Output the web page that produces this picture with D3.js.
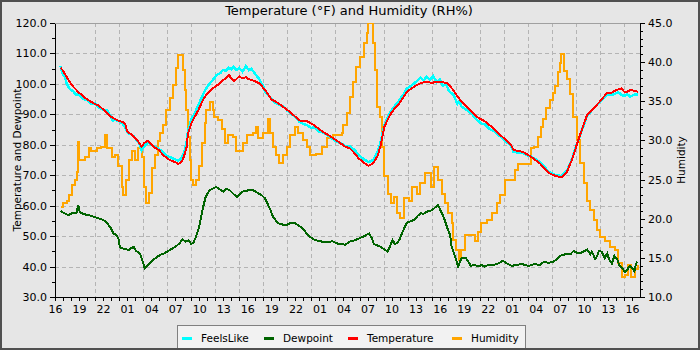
<!DOCTYPE html>
<html>
<head>
<meta charset="utf-8">
<script src="https://cdn.jsdelivr.net/npm/d3@7"></script>
<style>
  html, body { margin: 0; padding: 0; background: #e6e6e6; }
  svg { display: block; font-family: "DejaVu Sans", sans-serif; }
</style>
</head>
<body>
<svg id="chart" width="700" height="350"></svg>
<script>
// Three days of weather-station readings, hours since 16:00 on the first day.
const startTime = Date.UTC(2024, 6, 14, 16, 0);
const endHours = 73;

const tempHours = [0.7,1.0,1.67,2.3,3,3.5,4,5,5.5,6,6.5,7,7.5,8,8.5,8.8,9,9.5,10,10.4,10.8,11.1,11.6,12,12.5,13,13.5,14.3,15,15.4,15.8,16,16.4,16.6,17,17.5,17.9,18.3,18.7,19.2,19.7,20.2,20.6,21,21.3,21.7,22,22.3,22.6,23,23.4,23.8,24.2,24.5,25,25.5,26.2,26.6,27,27.5,27.9,28.7,29.3,30,30.6,31.4,32.3,33.1,34.1,35.2,36.2,36.8,37.4,37.9,38.5,39.1,39.7,40.3,40.7,41.1,41.8,42.3,42.8,43.4,43.9,44.5,45.1,45.8,46.4,47,47.6,48,49,49.7,50.2,50.7,51.6,52.6,53.7,54.7,55.7,56.8,57.2,57.6,58.4,59.5,60.5,61.6,62.4,63.2,63.9,64.5,65.1,65.8,66.4,67.2,68,68.9,69.4,69.9,70.3,70.7,71.0,71.4,71.8,72.2,72.8];
const temperature = [105.3,104.3,101.3,99.0,97.1,96.0,94.9,93.4,92.8,91.6,90.5,89.2,88.4,87.8,87.5,86.5,84.3,83.5,82.1,81.0,79.4,80.5,81.4,80.3,79.0,78.2,76.6,75.0,74.3,73.7,74.5,75.5,78.8,83.7,87.0,89.5,91.4,93.8,95.8,97.3,98.5,99.5,100.2,101.3,101.7,103.0,101.8,101.0,101.5,102.5,101.8,102.2,101.5,101.3,100.8,100.2,98.0,96.5,94.9,94.2,93.6,92.0,90.8,89.2,87.9,87.8,86.5,84.8,83.2,81.3,79.4,78.8,77.2,75.5,74.2,73.1,73.9,76.6,80.5,85.9,89.8,91.6,93.0,95.3,97.4,98.5,99.6,100.4,100.7,100.3,100.7,100.7,100.2,98.0,96.0,94.2,92.0,89.2,87.6,85.4,82.9,80.3,78.5,78.0,77.7,75.9,73.9,70.8,69.8,69.3,71.2,75.0,79.9,85.4,89.8,92.0,94.2,97.1,97.0,97.8,98.2,98.5,97.5,97.4,98.0,97.8,97.4];

const feelsHours = [0.7,0.9,1.2,1.5,1.9,2.3,2.6,3,3.3,3.7,4,4.5,5,5.5,6,6.5,6.9,7.2,7.5,8,8.4,8.8,9.2,9.5,9.8,10.2,10.5,10.8,11.1,11.6,12,12.5,13,13.5,14,14.5,15,15.4,15.8,16.1,16.4,16.6,17,17.5,17.9,18.3,18.7,19.2,19.7,20.2,20.6,21,21.3,21.7,22,22.3,22.6,23,23.4,23.8,24.2,24.5,25,25.5,26,26.3,26.6,27,27.5,27.9,28.5,29,29.5,30,30.5,31,31.5,32,32.3,33,33.5,34.1,34.5,35.2,35.7,36.2,36.8,37.4,37.9,38.5,39.1,39.7,40.3,40.7,41.1,41.8,42.3,42.8,43.4,43.9,44.5,45.1,45.6,46,46.4,46.8,47.2,47.6,48,48.4,48.8,49.2,49.7,50.2,50.5,50.7,51.2,51.6,52,52.6,53.2,53.7,54.2,54.7,55.2,55.7,56.2,56.8,57.2,57.6,58.4,59,59.5,60.5,61.6,62.4,63.2,63.9,64.5,65.1,65.8,66.4,67.2,68,68.9,69.4,69.9,70.3,70.7,71.0,71.4,71.8,72.2,72.8];
const feelsLike = [105.8,103.5,102.5,99.8,98.2,97.5,96.5,96.5,95.5,94.8,94.8,93.6,93.5,92.2,91.5,91.5,89.5,88.0,88.2,87.8,87.0,85.5,83.5,83.5,82.8,81.5,80.5,78.2,79.5,80.8,80.0,79.2,78.6,77.5,76.2,75.8,75.2,74.8,75.6,77.5,80.2,84.5,88.2,90.8,93.0,95.5,97.8,99.8,101.3,103.0,103.5,104.6,104.2,105.3,104.8,105.6,104.6,105.2,104.0,105.8,104.5,105.0,103.2,101.6,99.0,97.0,96.3,95.2,93.8,93.2,92.6,91.2,90.2,89.0,87.6,86.8,86.4,85.5,85.8,84.3,84.0,83.0,82.2,81.0,80.5,79.6,79.6,78.2,76.6,75.3,74.3,75.0,77.8,81.5,86.5,90.6,92.4,94.0,96.2,98.4,99.5,100.8,102.0,101.2,102.3,101.4,102.6,100.6,101.5,99.5,99.8,97.5,96.6,93.5,94.6,92.6,91.8,91.0,90.2,88.3,87.0,86.6,85.2,84.6,83.6,82.4,81.2,80.0,77.8,77.5,77.3,76.5,76.0,74.3,71.2,70.1,69.7,71.5,75.2,80.0,85.2,89.5,92.0,94.0,96.6,96.3,96.8,97.2,96.4,96.0,96.6,95.8,96.4,96.6];

const dewHours = [0.7,1.2,1.67,2.2,2.7,2.9,3.1,3.6,4.2,4.7,5,5.5,6,6.4,6.7,7,7.3,7.6,7.9,8.1,8.3,8.7,9.2,9.5,9.8,10.1,10.6,10.9,11.2,11.5,11.8,12.2,12.5,13.1,13.6,14.3,15,15.5,15.9,16.3,16.7,17,17.3,17.6,18,18.4,18.8,19.3,19.7,20.1,20.6,21,21.4,21.8,22.2,22.7,23.1,23.4,24.2,24.7,25.4,25.8,26.2,26.6,26.9,27.2,27.6,27.9,28.4,28.9,29.3,29.7,30.1,30.6,31,31.4,31.8,32.3,32.8,33.3,34,34.6,35.0,35.4,36.2,36.8,37.4,38,38.6,39.2,39.5,39.8,40.2,40.6,41,41.5,41.8,42.1,42.4,42.7,43,43.3,43.6,43.9,44.3,44.8,45.2,45.6,46,46.4,46.9,47.3,47.8,48.3,48.6,48.9,49.3,49.5,50,50.3,50.7,51.3,51.9,52.3,52.8,53.2,53.6,54.2,54.7,55.3,55.9,56.4,57,57.6,58.3,59.1,59.9,60.5,61,61.6,62.2,62.6,63,63.5,63.9,64.3,64.7,65.1,65.5,66,66.4,66.8,67,67.4,67.6,67.9,68.2,68.6,68.9,69.2,69.5,69.8,70.2,70.5,70.8,71.1,71.4,71.7,72,72.3,72.5,72.7];
const dewpoint = [58.2,57.5,56.9,57.6,57.7,60.3,57.8,57.2,56.9,56.5,56.2,55.8,55.3,54.6,53.6,52.5,50.9,50.4,49.3,46.5,46.0,45.8,45.4,46.0,46.5,45.2,44.3,42.0,39.4,40.4,41.0,42.0,42.7,43.8,44.3,45.4,46.5,47.5,48.9,48.2,48.6,47.4,48.0,49.8,53.1,58.6,62.9,65.1,65.6,66.2,65.3,64.6,65.5,65.1,64.0,62.9,63.8,64.6,65.1,65.1,64.0,63.4,62.4,60.2,58.5,56.4,55.0,54.2,53.8,53.6,54.2,54.5,54.0,53.1,52.2,50.9,49.8,48.9,48.5,48.2,48.0,48.3,47.8,47.4,47.2,48.2,48.6,49.3,50.0,50.9,49.5,47.4,47.0,46.5,45.8,44.9,46.5,48.7,47.5,47.7,49.0,50.9,52.8,54.4,54.8,55.3,56.5,57.5,57.3,58.0,58.4,59.1,60.2,57.4,55.5,53.1,50.4,46.5,42.7,40.0,42.7,42.7,40.2,40.6,40.0,40.5,40.0,40.6,40.5,41.0,41.9,41.0,40.2,40.6,40.8,40.2,40.9,40.4,41.6,41.2,41.6,42.4,43.5,43.9,44.3,44.0,45.1,44.6,44.3,45.0,45.6,44.0,44.9,42.5,43.2,45.2,44.9,42.8,44.3,42.0,41.0,43.5,42.1,40.0,39.4,38.2,38.9,40.2,39.7,38.5,41.0,41.6];

const humHours = [0.7,1.0,1.5,1.75,2.1,2.5,2.7,2.9,3.0,3.75,4.2,4.5,4.8,5.2,5.8,6.25,6.5,6.7,7.1,7.5,7.9,8.3,8.5,8.8,9.2,9.6,10,10.4,10.8,11.1,11.4,11.7,12.1,12.5,12.9,13.1,13.5,13.9,14.3,14.7,15.1,15.4,15.8,16,16.2,16.4,16.6,16.8,17,17.2,17.6,18,18.4,18.7,18.9,19.3,19.7,19.9,20.4,20.8,21.2,21.6,22.2,22.6,23.1,23.5,24,24.7,25.1,25.3,26,26.6,26.8,27.2,27.6,28,28.5,28.9,29.3,29.9,30.3,30.9,31.4,31.8,32.6,33.3,33.9,34.7,35.8,36,36.4,36.8,37.2,37.6,38,38.5,38.9,39.1,39.5,39.7,39.9,40.2,40.5,40.8,41.1,41.5,41.9,42.3,42.7,43.1,43.5,44.2,44.6,45.2,45.6,46.2,46.9,47.3,47.8,48.3,48.7,49.1,49.5,49.7,50.1,50.4,50.7,51.1,52,52.4,52.8,53.2,53.9,54.5,55.1,55.5,56.1,57,57.4,57.8,58.8,59.4,59.8,60.3,60.7,60.9,61.3,61.8,62.2,62.4,62.8,63,63.2,63.5,63.9,64.3,64.7,65.1,65.5,66,66.4,66.8,67.2,67.6,68,68.6,69.2,69.9,70.3,70.7,71.1,71.5,71.9,72.4,72.8];
const humidity = [21.5,22.0,22.3,23.0,24.3,24.9,26.0,29.8,27.5,27.9,29.0,28.6,28.6,29.0,29.2,30.7,29.0,29.0,27.9,28.1,26.7,24.1,23.0,25.0,27.5,28.7,27.5,29.0,27.9,24.1,22.0,23.3,26.5,28.1,29.9,30.9,32.0,33.9,35.4,37.1,39.2,40.9,40.9,39.0,36.4,33.9,30.5,27.5,24.9,24.3,24.9,26.7,29.7,32.2,33.9,34.9,33.9,33.0,32.6,31.4,29.7,30.7,30.5,28.6,28.6,29.7,30.7,30.9,31.7,30.3,30.9,32.8,30.9,29.2,28.1,27.1,28.1,29.2,30.7,31.7,30.9,30.1,29.2,28.1,28.3,29.2,30.3,30.7,30.9,32.0,33.5,35.6,37.5,39.4,40.7,42.4,43.7,45.0,45.0,42.4,39.0,34.3,33.0,29.2,25.4,23.2,22.0,22.8,20.7,20.1,22.7,22.3,24.1,23.2,24.5,25.8,24.1,26.6,24.9,23.2,22.0,20.7,19.4,17.3,16.0,14.7,16.0,17.9,17.9,17.1,18.3,19.4,19.8,20.7,22.0,23.0,24.9,25.0,26.2,27.0,27.0,29.0,29.1,30.5,31.7,32.8,34.1,35.2,36.1,37.0,38.7,39.9,41.1,38.9,37.8,35.9,33.0,30.1,27.1,24.5,22.3,21.1,19.8,18.5,17.7,17.1,16.4,16.0,14.3,12.6,12.8,14.1,12.6,13.6,14.1];

const leftTicks = [30, 40, 50, 60, 70, 80, 90, 100, 110, 120];
const rightTicks = [10, 15, 20, 25, 30, 35, 40, 45];

const seriesNames = ["FeelsLike", "Dewpoint", "Temperature", "Humidity"];
const seriesColors = {FeelsLike: "#00ffff", Dewpoint: "#006400", Temperature: "#ff0000", Humidity: "#ffa500"};

const W = 700, H = 350;
const plot = {left: 55, right: 640, top: 23, bottom: 297};
const svg = d3.select("#chart");

const toDate = h => new Date(startTime + h * 3600e3);
const x = d3.scaleUtc().domain([toDate(0), toDate(endHours)]).range([plot.left, plot.right]);
const yL = d3.scaleLinear().domain([30, 120]).range([plot.bottom, plot.top]);
const yR = d3.scaleLinear().domain([10, 45]).range([plot.bottom, plot.top]);

// canvas
svg.append("rect").attr("x", 0).attr("y", 0).attr("width", W).attr("height", H).attr("fill", "#e6e6e6");

// grid
const grid = svg.append("g").attr("stroke", "#b4b4b4").attr("stroke-width", 1)
  .attr("stroke-dasharray", "4,3").attr("shape-rendering", "crispEdges");
const gridHours = d3.utcHour.every(3).range(toDate(0), toDate(endHours));
grid.selectAll("line.v").data(gridHours.slice(1)).join("line")
  .attr("x1", d => Math.round(x(d)) + 0.5).attr("x2", d => Math.round(x(d)) + 0.5)
  .attr("y1", plot.top).attr("y2", plot.bottom);
grid.selectAll("line.h").data(leftTicks.filter(v => v > 30 && v < 120)).join("line")
  .attr("x1", plot.left).attr("x2", plot.right)
  .attr("y1", d => Math.round(yL(d)) + 0.5).attr("y2", d => Math.round(yL(d)) + 0.5);

svg.append("line").attr("x1", plot.left).attr("x2", plot.right)
  .attr("y1", plot.top + 0.5).attr("y2", plot.top + 0.5)
  .attr("stroke", "#a0a0a0").attr("shape-rendering", "crispEdges");

// series
function pairs(hours, values) { return hours.map((h, i) => [toDate(h), values[i]]); }
const lineL = d3.line().x(d => x(d[0])).y(d => yL(d[1]));
const lineR = d3.line().x(d => x(d[0])).y(d => yR(d[1])).curve(d3.curveStepAfter);
svg.append("clipPath").attr("id", "plotclip").append("rect")
  .attr("x", plot.left).attr("y", plot.top).attr("width", plot.right - plot.left).attr("height", plot.bottom - plot.top);
const lines = svg.append("g").attr("clip-path", "url(#plotclip)").attr("fill", "none")
  .attr("stroke-width", 2).attr("stroke-linejoin", "miter").attr("shape-rendering", "crispEdges");
lines.append("path").attr("d", lineR(pairs(humHours, humidity))).attr("stroke", seriesColors.Humidity);
lines.append("path").attr("d", lineL(pairs(feelsHours, feelsLike))).attr("stroke", seriesColors.FeelsLike).attr("stroke-width", 2.5);
lines.append("path").attr("d", lineL(pairs(dewHours, dewpoint))).attr("stroke", seriesColors.Dewpoint);
lines.append("path").attr("d", lineL(pairs(tempHours, temperature))).attr("stroke", seriesColors.Temperature);

// axes
function styleAxis(g) {
  g.attr("font-family", "DejaVu Sans, sans-serif").attr("font-size", 11);
  g.selectAll("text").attr("fill", "#000");
  g.selectAll("line,path").attr("stroke", "#000").attr("shape-rendering", "crispEdges");
}
const fmt = d3.format(".1f");
svg.append("g").attr("transform", `translate(${plot.left},0)`)
  .call(d3.axisLeft(yL).tickValues(d3.range(35, 120, 10)).tickSize(3).tickFormat("").tickSizeOuter(0)).call(styleAxis);
svg.append("g").attr("transform", `translate(${plot.left},0)`)
  .call(d3.axisLeft(yL).tickValues(leftTicks).tickFormat(fmt).tickSize(5).tickPadding(3).tickSizeOuter(0)).call(styleAxis);

svg.append("g").attr("transform", `translate(${plot.right},0)`)
  .call(d3.axisRight(yR).tickValues(d3.range(10, 46, 1)).tickSize(3).tickFormat("").tickSizeOuter(0)).call(styleAxis);
svg.append("g").attr("transform", `translate(${plot.right},0)`)
  .call(d3.axisRight(yR).tickValues(rightTicks).tickFormat(fmt).tickSize(5).tickPadding(3).tickSizeOuter(0)).call(styleAxis);

const hourTicks = d3.utcHour.every(1).range(toDate(0), toDate(endHours));
const hourFmt = d3.utcFormat("%H");
svg.append("g").attr("transform", `translate(0,${plot.bottom})`)
  .call(d3.axisBottom(x).tickValues(hourTicks).tickSize(4).tickPadding(4)
    .tickFormat(d => (d.getUTCHours() % 3 === 1 ? hourFmt(d) : "")).tickSizeOuter(0))
  .call(styleAxis);

// titles
svg.append("text").attr("x", 349).attr("y", 15).attr("text-anchor", "middle")
  .attr("font-size", 13).attr("fill", "#000").text("Temperature (°F) and Humidity (RH%)");
svg.append("text").attr("transform", `translate(21,${(plot.top + plot.bottom) / 2}) rotate(-90)`)
  .attr("text-anchor", "middle").attr("font-size", 10.5).attr("fill", "#000").text("Temperature and Dewpoint");
svg.append("text").attr("transform", `translate(685,${(plot.top + plot.bottom) / 2}) rotate(-90)`)
  .attr("text-anchor", "middle").attr("font-size", 10.5).attr("fill", "#000").text("Humidity");

// legend
const legend = svg.append("g").attr("transform", "translate(177,325)");
legend.append("rect").attr("x", 0.5).attr("y", 0.5).attr("width", 348).attr("height", 26)
  .attr("fill", "#f2f2f2").attr("stroke", "#808080");
const legendX = [5, 87, 171, 275];
seriesNames.forEach((name, i) => {
  const g = legend.append("g").attr("transform", `translate(${legendX[i]},13)`);
  g.append("line").attr("x1", 0).attr("x2", 10).attr("y1", 0.5).attr("y2", 0.5)
    .attr("stroke", seriesColors[name]).attr("stroke-width", 3);
  g.append("text").attr("x", 19).attr("y", 4).attr("font-size", 10.5).attr("fill", "#000").text(name);
});

// outer border
svg.append("rect").attr("x", 1).attr("y", 1).attr("width", W - 2).attr("height", H - 2)
  .attr("fill", "none").attr("stroke", "#505050").attr("stroke-width", 2);
</script>
</body>
</html>
